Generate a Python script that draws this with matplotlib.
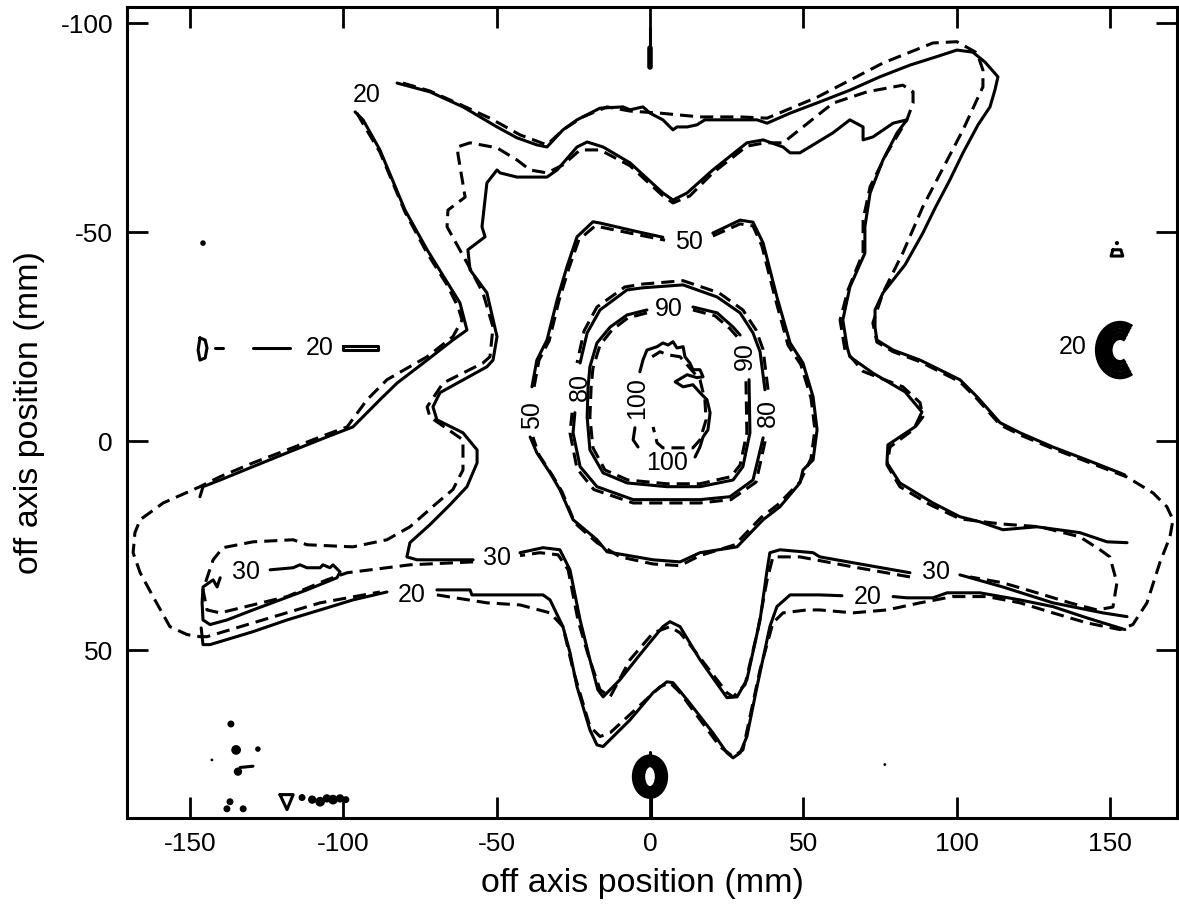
import numpy as np
import matplotlib
matplotlib.use("Agg")
import matplotlib.pyplot as plt
from matplotlib.patches import Ellipse, Arc

plt.rcParams['font.family'] = ['Liberation Sans', 'DejaVu Sans']
plt.rcParams['axes.unicode_minus'] = False

# isodose lines, (x, y) in mm -- solid = measured, dashed = calculated
# 20 % line, measured
meas20_a = [(-146.8, 13.3), (-145.8, 10.9), (-140.2, 9.3), (-129.5, 6.1), (-118.4, 2.8),
            (-105.4, -1.0), (-96.9, -3.4), (-88.1, -9.9), (-82.5, -13.9), (-73.4, -19.0),
            (-64.3, -24.2), (-59.7, -26.6), (-62.0, -33.1), (-72.7, -45.8), (-79.9, -55.3),
            (-88.1, -69.7), (-93.6, -76.9), (-96.2, -78.8)]
meas20_b = [(-82.5, -85.7), (-71.8, -83.6), (-61.0, -80.0), (-49.9, -75.2), (-43.4, -72.6),
            (-36.9, -70.9), (-33.6, -70.4), (-28.4, -74.5), (-23.8, -76.9), (-16.3, -79.7),
            (-8.8, -80.0), (-6.5, -79.3), (-2.3, -80.0), (0.0, -78.5), (4.2, -76.9),
            (7.5, -74.5), (8.8, -75.2), (12.1, -75.2), (15.3, -75.7), (17.9, -76.9),
            (34.9, -76.9), (38.2, -76.1), (45.7, -78.5), (55.4, -81.2), (65.2, -84.0),
            (75.0, -87.2), (84.8, -90.0), (93.0, -91.9), (100.1, -93.6), (105.3, -93.1),
            (109.3, -90.7), (113.5, -87.2), (112.5, -84.0), (110.9, -80.0), (107.0, -75.7),
            (102.1, -69.0), (97.8, -62.5), (93.0, -55.8), (89.0, -49.8), (83.2, -42.2),
            (76.0, -35.5), (73.4, -31.4), (73.4, -27.3), (74.0, -24.2), (79.3, -21.8),
            (88.1, -19.4), (101.1, -14.7), (106.7, -10.6), (114.2, -4.4), (120.7, -2.0),
            (131.4, 1.4), (142.5, 4.5), (153.3, 7.6), (154.9, 8.1)]
meas20_c = [(154.9, 45.1), (142.5, 42.3), (131.4, 39.6), (120.7, 38.0), (107.6, 36.3),
            (96.9, 36.3), (92.3, 37.5), (83.8, 37.5), (79.3, 37.2)]
meas20_d = [(62.6, 37.0), (55.4, 36.8), (45.7, 36.8), (41.4, 39.6), (39.1, 44.4),
            (34.9, 58.8), (31.6, 70.7), (29.4, 74.6), (27.1, 75.8), (25.1, 74.6),
            (20.5, 69.8), (12.1, 61.9), (7.5, 57.8), (5.5, 57.6), (1.0, 60.2),
            (-6.5, 66.7), (-15.3, 73.1), (-17.3, 72.7), (-19.6, 69.1), (-23.8, 58.8),
            (-26.1, 50.6), (-28.4, 44.4), (-32.6, 38.0), (-34.9, 36.8), (-55.4, 36.8),
            (-58.1, 36.8), (-58.7, 35.6), (-69.5, 35.6)]
meas20_e = [(-85.8, 36.1), (-96.9, 38.0), (-107.6, 40.4), (-118.4, 42.8), (-129.5, 45.6),
            (-143.5, 48.7), (-145.8, 48.7), (-146.4, 44.7)]

# 20 % line, calculated
calc20_a = [(-95.6, -78.5), (-93.0, -75.2), (-88.1, -69.2), (-79.9, -54.8), (-72.7, -45.0),
            (-66.2, -37.4), (-62.6, -32.1), (-61.3, -29.0), (-64.3, -25.0), (-72.7, -20.2),
            (-85.8, -14.7), (-92.3, -9.9), (-98.8, -3.4), (-107.6, -1.0), (-118.4, 2.1),
            (-129.5, 5.2), (-140.2, 8.5), (-146.8, 10.9), (-158.8, 14.8), (-166.3, 18.8),
            (-168.0, 21.9), (-168.6, 26.7), (-166.3, 31.5), (-162.1, 37.2), (-156.6, 44.4),
            (-151.0, 46.3), (-146.8, 46.8), (-144.5, 46.8), (-129.5, 43.5), (-107.6, 38.7),
            (-88.1, 36.1)]
calc20_b = [(-69.5, 36.8), (-53.2, 38.7), (-42.4, 39.2), (-32.6, 41.1), (-28.4, 44.4),
            (-25.1, 54.7), (-19.6, 68.3), (-16.3, 70.7), (-13.0, 69.8), (3.3, 58.8),
            (6.5, 57.8), (9.8, 60.2), (22.8, 73.1), (27.1, 75.5), (30.3, 73.9),
            (35.9, 54.7), (40.1, 43.5), (43.4, 41.1), (51.2, 40.4), (55.4, 40.4),
            (66.2, 41.1), (77.3, 40.4), (88.1, 38.7), (98.8, 37.2), (109.9, 37.2),
            (120.7, 38.7), (131.4, 41.1), (142.5, 43.5), (153.3, 45.1), (157.5, 43.9),
            (162.1, 38.7), (166.3, 29.1), (169.6, 22.9), (170.6, 18.8), (168.6, 15.7),
            (164.1, 12.4), (155.6, 8.6), (142.5, 4.9), (131.4, 1.8), (120.7, -1.5),
            (114.2, -3.9), (106.7, -10.1), (101.1, -14.2), (88.1, -19.0), (79.3, -21.4),
            (74.0, -23.7), (72.7, -28.3), (76.0, -35.5), (82.5, -45.1), (89.0, -56.1),
            (102.1, -74.5), (108.6, -84.8), (108.6, -88.8), (106.7, -92.9), (100.1, -95.6),
            (92.3, -95.3), (76.0, -90.5), (54.5, -82.3), (38.2, -77.3), (29.4, -77.6),
            (16.3, -77.6), (3.3, -78.5), (-6.5, -79.0), (-14.0, -80.0), (-21.9, -77.6),
            (-28.4, -74.5), (-33.6, -70.9), (-42.4, -73.3), (-52.2, -77.3), (-62.0, -80.6),
            (-71.8, -83.8), (-81.5, -85.9)]

# 30 % line, measured
meas30_a = [(-57.7, 28.4), (-68.5, 28.4), (-76.0, 28.4), (-79.3, 27.7), (-78.3, 24.3),
            (-71.8, 20.0), (-65.2, 15.2), (-59.7, 10.9), (-56.4, 5.2), (-56.4, 2.1),
            (-61.0, -2.0), (-69.5, -5.1), (-70.8, -8.2), (-68.5, -11.6), (-53.2, -17.8),
            (-51.2, -19.4), (-49.9, -25.0), (-53.2, -35.5), (-58.7, -41.0), (-59.4, -45.8),
            (-53.8, -48.9), (-54.8, -51.3), (-53.2, -61.8), (-49.9, -64.9), (-48.9, -64.2),
            (-43.4, -63.2), (-33.6, -63.2), (-30.3, -64.9), (-23.8, -70.4), (-20.5, -71.6),
            (-15.3, -70.4), (-6.5, -66.6), (4.2, -59.4), (7.5, -57.7), (12.1, -59.4),
            (20.5, -64.9), (31.6, -71.4), (36.9, -72.1), (43.4, -70.4), (45.7, -69.0),
            (48.9, -69.0), (59.7, -73.8), (65.2, -76.9), (69.5, -75.2), (69.5, -72.1),
            (72.7, -72.8), (79.3, -76.1), (83.8, -76.9), (80.6, -73.8), (76.0, -67.3),
            (71.8, -59.4), (70.1, -51.3), (70.1, -45.0), (65.2, -36.9), (62.9, -29.0),
            (64.3, -22.5), (65.2, -20.2), (72.7, -16.3), (83.2, -11.8), (88.7, -7.0),
            (86.4, -3.4), (77.6, 0.9), (77.3, 5.2), (81.5, 10.0), (92.3, 14.8),
            (101.1, 18.1), (107.6, 19.3), (115.1, 21.2), (126.2, 20.5), (140.2, 21.9),
            (149.1, 24.1), (155.6, 24.3)]
meas30_b = [(155.6, 42.0), (147.7, 41.1), (131.4, 38.7), (115.1, 34.9), (101.1, 32.0)]
meas30_c = [(84.8, 31.5), (66.2, 29.1), (55.4, 27.7), (53.2, 26.7), (42.4, 26.0),
            (39.1, 26.7), (38.2, 30.8), (35.9, 42.8), (31.6, 57.1), (28.4, 61.2),
            (25.1, 61.4), (16.3, 52.3), (9.8, 44.4), (6.5, 43.2), (4.2, 44.4),
            (-3.3, 51.1), (-9.8, 57.1), (-15.3, 61.2), (-17.0, 59.5), (-19.6, 52.3),
            (-22.8, 42.8), (-26.1, 30.8), (-29.4, 26.0), (-34.9, 25.5), (-42.4, 26.7)]
meas30_island = [(-123.9, 30.8), (-116.4, 30.3), (-114.2, 29.6), (-111.9, 30.3), (-107.6, 30.3),
                 (-106.7, 29.6), (-104.4, 30.3), (-103.4, 29.6), (-101.1, 31.3), (-102.1, 32.7),
                 (-111.9, 35.6), (-120.7, 38.0), (-129.5, 40.4), (-138.0, 42.8), (-143.5, 43.9),
                 (-145.8, 42.8), (-146.1, 38.7), (-145.8, 34.9), (-142.5, 33.2), (-141.2, 34.9),
                 (-140.2, 32.7)]

# 30 % line, calculated
calc30_a = [(-57.7, 28.9), (-78.3, 29.6), (-98.8, 31.5), (-105.4, 33.2), (-118.4, 37.2),
            (-140.2, 41.1), (-144.5, 40.4), (-145.8, 35.6), (-142.5, 28.4), (-139.3, 25.5),
            (-129.5, 24.1), (-116.4, 23.6), (-111.9, 24.8), (-96.9, 25.3), (-85.8, 23.6),
            (-78.3, 20.5), (-69.5, 14.8), (-64.3, 11.6), (-61.0, 6.9), (-61.0, -0.3),
            (-71.8, -5.8), (-72.7, -8.2), (-67.5, -13.9), (-54.5, -18.7), (-52.2, -20.2),
            (-51.2, -27.3), (-54.5, -35.5), (-59.7, -42.7), (-66.2, -51.3), (-65.9, -55.3),
            (-60.3, -58.4), (-62.6, -68.5), (-62.9, -70.4), (-58.7, -71.4), (-49.9, -70.2),
            (-43.4, -67.3), (-39.1, -64.9), (-33.6, -64.2), (-28.4, -66.1), (-22.8, -69.7),
            (-16.3, -69.7), (-6.5, -65.9), (4.2, -58.7), (7.5, -57.0), (13.0, -58.7),
            (20.5, -64.2), (31.6, -70.6), (37.5, -71.4), (43.4, -71.4), (59.7, -80.9),
            (70.8, -83.6), (82.5, -85.2), (85.8, -83.6), (85.8, -80.9), (83.8, -76.9),
            (77.3, -69.0), (71.8, -60.9), (69.5, -53.0), (69.5, -45.1), (64.6, -36.2),
            (62.0, -29.0), (63.6, -21.8), (69.5, -16.7), (82.5, -13.0), (88.1, -9.2),
            (89.0, -5.8), (85.8, -2.7), (78.3, 1.4), (77.3, 5.7), (81.5, 10.9),
            (91.3, 15.2), (101.1, 18.6), (114.2, 19.8), (127.2, 20.5), (140.2, 22.9),
            (146.8, 26.0), (150.0, 27.7), (152.3, 33.9), (151.0, 39.7), (145.8, 40.4),
            (137.0, 38.7), (126.2, 36.3), (115.1, 33.9), (104.4, 32.5)]
calc30_b = [(84.8, 32.5), (66.2, 30.1), (55.4, 28.6), (48.9, 27.7), (40.1, 27.7),
            (38.2, 33.2), (35.2, 45.1), (31.0, 58.3), (27.1, 61.2), (25.1, 60.2),
            (13.0, 48.7), (9.8, 45.9), (6.5, 44.4), (1.0, 45.9), (-6.5, 52.3),
            (-13.0, 61.2), (-16.3, 59.5), (-20.2, 51.1), (-23.5, 42.8), (-26.7, 30.8),
            (-30.0, 27.2), (-35.9, 26.7), (-42.4, 27.4)]

# 50 % line
meas50_a = [(20.5, -49.8), (29.4, -52.9), (33.6, -52.4), (36.9, -47.4), (41.4, -34.5),
            (45.7, -23.5), (49.9, -18.7), (53.2, -10.6), (54.5, -2.7), (53.2, 4.5),
            (49.9, 6.9), (48.9, 10.0), (42.4, 15.7), (36.9, 18.8), (28.4, 25.3),
            (16.3, 26.7), (9.8, 28.9), (1.0, 28.4), (-14.0, 26.5), (-17.3, 23.6),
            (-25.1, 18.8), (-29.4, 11.6), (-32.6, 7.6), (-36.9, 2.8), (-39.1, -1.0)]
meas50_b = [(-38.5, -13.0), (-36.9, -19.4), (-33.6, -24.2), (-30.3, -33.8), (-27.1, -41.7),
            (-23.8, -48.9), (-18.6, -52.5), (-16.3, -52.2), (-3.3, -50.0), (4.2, -48.8)]
calc50_a = [(20.5, -49.1), (29.4, -52.0), (33.6, -51.5), (36.5, -46.7), (40.8, -34.3),
            (45.0, -23.0), (49.2, -18.3), (52.5, -10.4), (53.8, -2.7), (52.5, 4.2),
            (48.9, 9.8), (41.7, 15.2), (36.2, 18.3), (27.7, 24.8), (16.3, 27.4),
            (9.8, 29.8), (1.0, 29.4), (-9.8, 27.7), (-17.3, 24.3), (-24.5, 19.6),
            (-28.7, 12.1), (-32.0, 8.0), (-36.2, 3.3), (-38.2, -1.0)]
calc50_b = [(-37.8, -13.0), (-36.2, -19.4), (-32.9, -24.0), (-29.7, -33.6), (-26.4, -41.5),
            (-23.2, -48.2), (-17.9, -51.5), (-3.3, -49.3), (4.9, -48.1)]

# 80 % line
meas80_a = [(37.5, -12.3), (35.9, -21.4), (33.6, -25.9), (29.4, -30.7), (21.9, -34.5),
            (10.8, -37.4), (-2.3, -36.7), (-7.5, -36.2), (-16.3, -31.4), (-20.5, -25.9),
            (-22.8, -18.7)]
meas80_b = [(-24.5, -6.8), (-25.1, -2.0), (-22.8, 6.1), (-17.3, 10.9), (-5.5, 14.0),
            (16.3, 14.0), (26.1, 13.3), (33.6, 9.3), (36.9, -0.8)]
calc80_a = [(38.5, -12.3), (36.9, -21.9), (34.6, -26.6), (30.3, -31.4), (22.5, -35.5),
            (10.8, -38.4), (-2.3, -37.6), (-8.2, -36.9), (-17.3, -32.1), (-21.5, -26.4),
            (-23.8, -18.7)]
calc80_b = [(-25.4, -6.8), (-26.1, -2.0), (-23.8, 6.6), (-18.3, 11.6), (-5.5, 14.8),
            (16.3, 14.8), (26.4, 14.0), (34.6, 9.8), (37.8, -0.8)]

# 90 % line
meas90_a = [(-1.0, -31.4), (-7.5, -30.2), (-13.0, -27.3), (-17.3, -23.5), (-19.6, -17.8),
            (-20.2, -13.0), (-20.5, -5.8), (-19.6, 2.1), (-15.3, 7.6), (-7.5, 10.0),
            (5.5, 10.9), (16.3, 10.9), (27.1, 9.3), (30.3, 6.1), (32.6, -2.0),
            (32.3, -14.7)]
meas90_b = [(14.0, -32.1), (21.9, -30.7), (27.1, -27.3), (29.4, -25.4)]
calc90_a = [(-1.0, -30.7), (-7.2, -29.5), (-12.4, -26.6), (-16.3, -23.0), (-18.6, -17.5),
            (-19.2, -13.0), (-19.6, -5.8), (-18.6, 1.6), (-14.7, 6.9), (-7.2, 9.3),
            (5.5, 10.2), (16.3, 10.2), (26.4, 8.5), (29.4, 5.7), (31.6, -2.0),
            (31.3, -14.7)]
calc90_b = [(14.0, -31.4), (21.2, -30.0), (26.1, -26.9), (28.4, -25.0)]

# 100 % line
meas100_a = [(-3.3, -16.6), (-2.3, -19.4), (-1.0, -21.8), (2.3, -22.6), (4.2, -23.5),
             (5.9, -23.0), (7.5, -23.8), (8.8, -22.3), (10.8, -22.6), (11.4, -20.2),
             (13.0, -18.7), (14.0, -17.1), (16.3, -17.1), (17.3, -15.4), (15.3, -15.2),
             (12.1, -15.9), (8.2, -14.2), (10.8, -13.0), (14.0, -13.5), (16.3, -11.6),
             (18.6, -9.9), (19.6, -6.8), (18.9, -2.7), (17.3, -1.0), (16.3, 1.4),
             (14.7, 3.8)]
meas100_b = [(-4.9, -3.2), (-5.5, -0.3), (-3.9, 1.4)]
calc100 = [(0.7, -20.2), (3.3, -21.4), (5.5, -20.7), (9.8, -20.2), (13.0, -17.5),
           (16.3, -14.7), (17.9, -9.9), (18.3, -5.1), (16.3, -0.3), (14.0, 1.6),
           (4.2, 1.6), (2.3, 0.4), (1.0, -3.4)]

# small isolated 20 % pieces
row20_blob = [(-146.8, -24.7), (-145.1, -24.2), (-144.5, -22.3), (-145.1, -19.9),
              (-146.8, -19.4), (-147.4, -21.8), (-146.8, -24.7)]
row20_dash1 = [(-141.9, -22.3), (-139.3, -22.3)]
row20_dash2 = [(-129.5, -22.3), (-117.4, -22.3)]
row20_bar = [(-100.1, -22.8), (-88.7, -22.8), (-88.7, -21.8), (-100.1, -21.8), (-100.1, -22.8)]
top_spike_thin = [(0.0, -98.9), (0.0, -94.0)]
top_spike_thick = [(0.0, -94.0), (0.0, -89.5)]
right_loop = [(151.0, -45.8), (153.6, -45.8), (154.2, -44.3), (150.4, -44.3), (151.0, -45.8)]
bottom_stem = [(0.2, 85.4), (0.2, 90.2)]
bottom_spike = [(0.0, 74.4), (0.0, 76.2)]

# concentric spots: centre (x, y), widths and heights in mm
ring_center = (0.0, 80.3)
ring_widths = [10.4, 8.8, 7.2, 5.8, 4.6]
ring_heights = [9.6, 8.5, 7.4, 6.4, 5.6]
cee_center = (153.3, -21.8)
cee_widths = [15.0, 12.8, 10.6, 8.4, 6.2]
cee_heights = [13.0, 11.2, 9.4, 7.6, 5.8]

# stray points
dots_x = [-145.8, -136.7, -135.0, -127.9, -142.9, -134.4, -137.0, -138.0, -132.7,
          -113.5, -110.2, -107.6, -105.4, -103.4, -101.1, -99.2, 76.6, 152.3]
dots_y = [-47.4, 67.7, 73.9, 73.7, 76.3, 79.1, 86.3, 88.0, 88.0,
          85.3, 85.8, 86.3, 85.5, 85.8, 85.5, 85.8, 77.4, -47.4]
dots_size = [4, 5, 7, 4, 2, 6, 5, 5, 5, 5, 6, 7, 6, 7, 6, 5, 2, 3]
dash_spot = [(-133.7, 78.1), (-129.5, 77.8)]
vee_spot = [(-120.7, 84.6), (-116.4, 84.6), (-118.4, 88.2), (-120.7, 84.6)]

# contour labels: text, x, y, rotation
label_text = ['20', '20', '20', '20', '20', '30', '30', '30', '50', '50',
              '80', '80', '90', '90', '100', '100']
label_x = [-92.3, -107.6, -77.6, 71.1, 138.0, -131.8, -49.9, 93.3, 12.7, -38.5,
           -22.8, 38.5, 6.2, 31.0, -4.2, 5.5]
label_y = [-82.8, -22.3, 36.8, 37.2, -22.5, 31.3, 27.9, 31.3, -47.7, -6.3,
           -13.0, -6.8, -31.6, -20.4, -10.2, 5.2]
label_rot = [0, 0, 0, 0, 0, 0, 0, 0, 0, 90,
             90, 90, 0, 90, 90, 0]

measured = [meas20_a, meas20_b, meas20_c, meas20_d, meas20_e,
            meas30_a, meas30_b, meas30_c, meas30_island,
            meas50_a, meas50_b, meas80_a, meas80_b, meas90_a, meas90_b,
            meas100_a, meas100_b,
            row20_blob, row20_dash1, row20_dash2, row20_bar, top_spike_thin,
            right_loop, bottom_stem, bottom_spike, dash_spot, vee_spot]
calculated = [calc20_a, calc20_b, calc30_a, calc30_b, calc50_a, calc50_b,
              calc80_a, calc80_b, calc90_a, calc90_b, calc100]

fig = plt.figure(figsize=(11.79, 9.24), dpi=100)
ax = fig.add_axes([0.1077, 0.1147, 0.8906, 0.8777])

lw = 2.2
for piece in measured:
    a = np.array(piece)
    ax.plot(a[:, 0], a[:, 1], color='k', lw=lw, solid_capstyle='round')
for piece in calculated:
    a = np.array(piece)
    ax.plot(a[:, 0], a[:, 1], color='k', lw=lw, ls=(0, (4.3, 2.3)))

a = np.array(top_spike_thick)
ax.plot(a[:, 0], a[:, 1], color='k', lw=4, solid_capstyle='round')

for w, h in zip(ring_widths, ring_heights):
    ax.add_patch(Ellipse(ring_center, w, h, fill=False, ec='k', lw=3.2))
for w, h in zip(cee_widths, cee_heights):
    ax.add_patch(Arc(cee_center, w, h, theta1=55, theta2=305, ec='k', lw=3.0))

ax.scatter(dots_x, dots_y, s=np.array(dots_size) ** 2, color='k', zorder=3, lw=0)

for t, x, y, r in zip(label_text, label_x, label_y, label_rot):
    ax.text(x, y, t, fontsize=18, ha='center', va='center', rotation=r,
            rotation_mode='anchor')

ax.set_xlim(-170.6, 171.9)
ax.set_ylim(90.2, -103.9)
ax.set_xticks([-150, -100, -50, 0, 50, 100, 150])
ax.set_yticks([-100, -50, 0, 50])
ax.tick_params(direction='in', length=15, width=2, top=True, right=True,
               labelsize=19, pad=10)
for s in ax.spines.values():
    s.set_linewidth(2.2)

ax.set_xlabel('off axis position (mm)', fontsize=24.5)
ax.set_ylabel('off axis position (mm)', fontsize=24.5)
ax.xaxis.set_label_coords(0.491, -0.062)
ax.yaxis.set_label_coords(-0.078, 0.5)

fig.savefig('out.png', dpi=100)
